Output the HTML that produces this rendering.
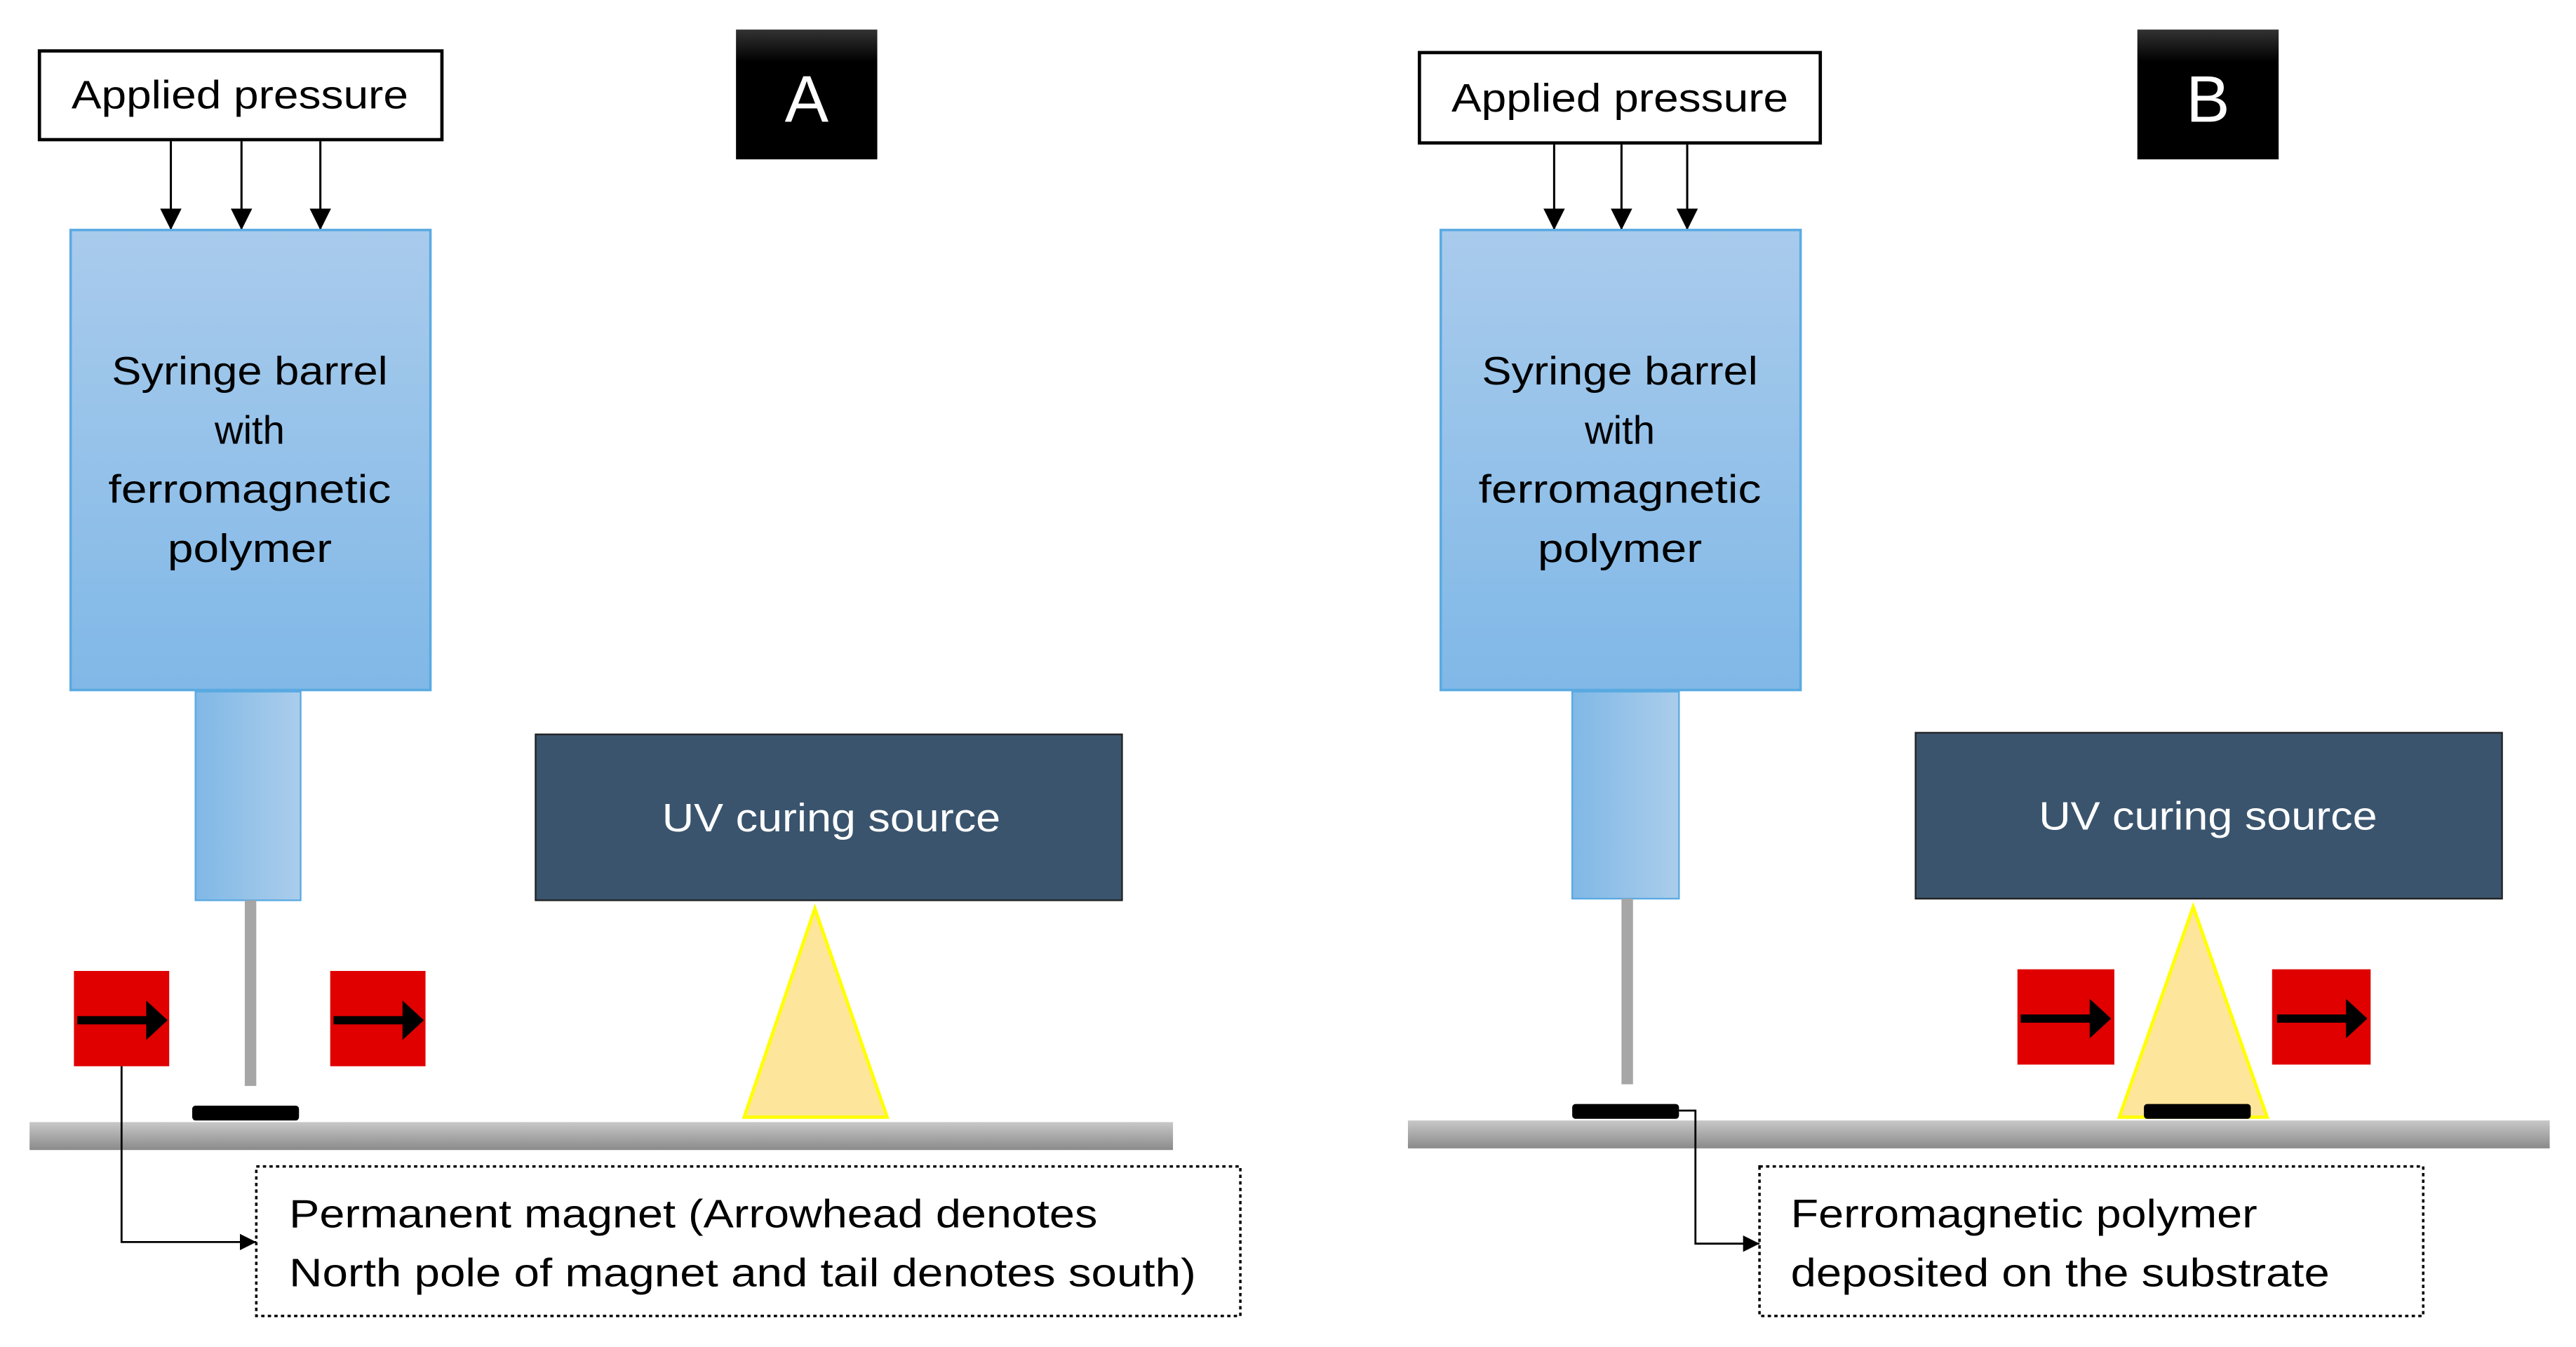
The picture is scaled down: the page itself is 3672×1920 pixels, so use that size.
<!DOCTYPE html>
<html><head><meta charset="utf-8"><style>html,body{margin:0;padding:0;background:#fff}svg{display:block}</style></head>
<body>
<svg width="3672" height="1920" viewBox="0 0 1568 819.9" preserveAspectRatio="none" xmlns="http://www.w3.org/2000/svg" font-family="Liberation Sans, sans-serif">
<defs>
<linearGradient id="barrel" x1="0" y1="0" x2="0" y2="1"><stop offset="0" stop-color="#a9cbec"/><stop offset="1" stop-color="#80b8e7"/></linearGradient>
<linearGradient id="noz" x1="0" y1="0" x2="1" y2="0"><stop offset="0" stop-color="#80b8e6"/><stop offset="1" stop-color="#abcdeb"/></linearGradient>
<linearGradient id="sub" x1="0" y1="0" x2="0" y2="1"><stop offset="0" stop-color="#c8c8c8"/><stop offset="1" stop-color="#8a8a8a"/></linearGradient>
<linearGradient id="lbl" x1="0" y1="0" x2="0" y2="1"><stop offset="0" stop-color="#333"/><stop offset="0.25" stop-color="#000"/><stop offset="1" stop-color="#000"/></linearGradient>
<marker id="ah" viewBox="0 0 10 10" refX="10" refY="5" markerWidth="10" markerHeight="10" orient="auto" markerUnits="userSpaceOnUse"><path d="M0,0L10,5L0,10z" fill="#000"/></marker>
<marker id="ah2" viewBox="0 0 10 10" refX="10" refY="5" markerWidth="14" markerHeight="13" orient="auto" markerUnits="userSpaceOnUse"><path d="M0,0L10,5L0,10z" fill="#000"/></marker>
</defs>

<!-- Panel A -->
<rect x="24" y="31" width="245" height="54" fill="#fff" stroke="#000" stroke-width="2"/>
<text x="146" y="66" font-size="24" text-anchor="middle" textLength="205" lengthAdjust="spacingAndGlyphs">Applied pressure</text>
<rect x="448" y="18" width="86" height="79" fill="url(#lbl)"/>
<text x="491" y="74" font-size="40" fill="#fff" text-anchor="middle">A</text>
<g stroke="#000" stroke-width="1.3">
<line x1="104" y1="86" x2="104" y2="140" marker-end="url(#ah2)"/>
<line x1="147" y1="86" x2="147" y2="140" marker-end="url(#ah2)"/>
<line x1="195" y1="86" x2="195" y2="140" marker-end="url(#ah2)"/>
</g>
<rect x="43" y="140" width="219" height="280" fill="url(#barrel)" stroke="#5aaae2" stroke-width="1.5"/>
<g font-size="24" text-anchor="middle" fill="#000">
<text x="152" y="234" textLength="168" lengthAdjust="spacingAndGlyphs">Syringe barrel</text>
<text x="152" y="270">with</text>
<text x="152" y="306" textLength="172" lengthAdjust="spacingAndGlyphs">ferromagnetic</text>
<text x="152" y="342" textLength="100" lengthAdjust="spacingAndGlyphs">polymer</text>
</g>
<rect x="119" y="421" width="64" height="127" fill="url(#noz)" stroke="#5aaae2" stroke-width="1"/>
<rect x="149" y="548" width="7" height="113" fill="#a6a6a6"/>
<rect x="45" y="591" width="58" height="58" fill="#e00000"/>
<rect x="201" y="591" width="58" height="58" fill="#e00000"/>
<g stroke="#000" stroke-width="5"><line x1="47" y1="621" x2="92" y2="621"/><line x1="203" y1="621" x2="248" y2="621"/></g>
<path d="M89,609L102,621L89,633z M245,609L258,621L245,633z" fill="#000"/>
<rect x="117" y="673" width="65" height="9" rx="2" fill="#000"/>
<rect x="18" y="683" width="696" height="17" fill="url(#sub)"/>
<rect x="326" y="447" width="357" height="101" fill="#3a546e" stroke="#222" stroke-width="1"/>
<text x="506" y="506" font-size="24" fill="#fff" text-anchor="middle" textLength="206" lengthAdjust="spacingAndGlyphs">UV curing source</text>
<path d="M496,553L540,680L453,680z" fill="#fde59b" stroke="#ffff00" stroke-width="2"/>
<rect x="156" y="710" width="599" height="91" fill="none" stroke="#000" stroke-width="1.5" stroke-dasharray="2,2"/>
<text x="176" y="747" font-size="24" textLength="492" lengthAdjust="spacingAndGlyphs">Permanent magnet (Arrowhead denotes</text>
<text x="176" y="783" font-size="24" textLength="552" lengthAdjust="spacingAndGlyphs">North pole of magnet and tail denotes south)</text>
<path d="M74,649V756H156" fill="none" stroke="#000" stroke-width="1.2" marker-end="url(#ah)"/>

<!-- Panel B -->
<rect x="864" y="32" width="244" height="55" fill="#fff" stroke="#000" stroke-width="2"/>
<text x="986" y="68" font-size="24" text-anchor="middle" textLength="205" lengthAdjust="spacingAndGlyphs">Applied pressure</text>
<rect x="1301" y="18" width="86" height="79" fill="url(#lbl)"/>
<text x="1344" y="74" font-size="40" fill="#fff" text-anchor="middle">B</text>
<g stroke="#000" stroke-width="1.3">
<line x1="946" y1="88" x2="946" y2="140" marker-end="url(#ah2)"/>
<line x1="987" y1="88" x2="987" y2="140" marker-end="url(#ah2)"/>
<line x1="1027" y1="88" x2="1027" y2="140" marker-end="url(#ah2)"/>
</g>
<rect x="877" y="140" width="219" height="280" fill="url(#barrel)" stroke="#5aaae2" stroke-width="1.5"/>
<g font-size="24" text-anchor="middle" fill="#000">
<text x="986" y="234" textLength="168" lengthAdjust="spacingAndGlyphs">Syringe barrel</text>
<text x="986" y="270">with</text>
<text x="986" y="306" textLength="172" lengthAdjust="spacingAndGlyphs">ferromagnetic</text>
<text x="986" y="342" textLength="100" lengthAdjust="spacingAndGlyphs">polymer</text>
</g>
<rect x="957" y="421" width="65" height="126" fill="url(#noz)" stroke="#5aaae2" stroke-width="1"/>
<rect x="987" y="547" width="7" height="113" fill="#a6a6a6"/>
<rect x="957" y="672" width="65" height="9" rx="2" fill="#000"/>
<rect x="857" y="682" width="695" height="17" fill="url(#sub)"/>
<rect x="1166" y="446" width="357" height="101" fill="#3a546e" stroke="#222" stroke-width="1"/>
<text x="1344" y="505" font-size="24" fill="#fff" text-anchor="middle" textLength="206" lengthAdjust="spacingAndGlyphs">UV curing source</text>
<path d="M1335,552L1380,680L1290,680z" fill="#fde59b" stroke="#ffff00" stroke-width="2"/>
<rect x="1305" y="672" width="65" height="9" rx="2" fill="#000"/>
<rect x="1228" y="590" width="59" height="58" fill="#e00000"/>
<rect x="1383" y="590" width="60" height="58" fill="#e00000"/>
<g stroke="#000" stroke-width="5"><line x1="1230" y1="620" x2="1275" y2="620"/><line x1="1386" y1="620" x2="1431" y2="620"/></g>
<path d="M1272,608L1285,620L1272,632z M1428,608L1441,620L1428,632z" fill="#000"/>
<rect x="1071" y="710" width="404" height="91" fill="none" stroke="#000" stroke-width="1.5" stroke-dasharray="2,2"/>
<text x="1090" y="747" font-size="24" textLength="284" lengthAdjust="spacingAndGlyphs">Ferromagnetic polymer</text>
<text x="1090" y="783" font-size="24" textLength="328" lengthAdjust="spacingAndGlyphs">deposited on the substrate</text>
<path d="M1022,676H1032V757H1071" fill="none" stroke="#000" stroke-width="1.2" marker-end="url(#ah)"/>
</svg>
</body></html>
